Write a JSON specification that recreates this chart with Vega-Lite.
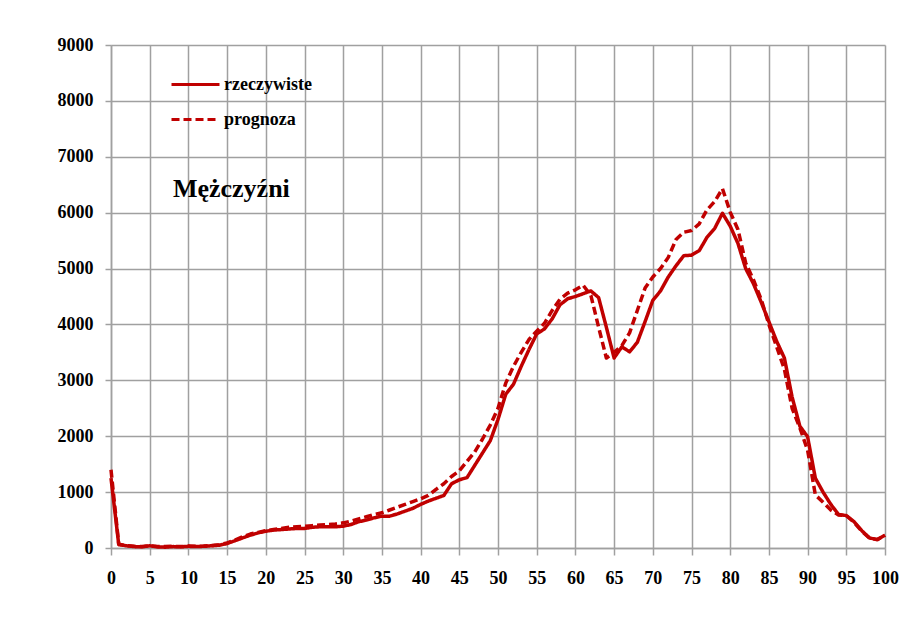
{
  "$schema": "https://vega.github.io/schema/vega-lite/v6.json",
  "width": 774,
  "height": 503,
  "autosize": {"type": "none"},
  "padding": {"left": 111, "top": 45, "right": 16, "bottom": 82},
  "background": "white",
  "config": {
    "font": "Liberation Serif",
    "view": {"stroke": null},
    "axis": {
      "gridColor": "#a0a0a0",
      "gridWidth": 1.5,
      "gridOpacity": 1,
      "domainColor": "#a0a0a0",
      "domainWidth": 1.5,
      "tickColor": "#a0a0a0",
      "tickWidth": 1.5,
      "labelFont": "Liberation Serif",
      "labelFontWeight": "bold",
      "labelFontSize": 18,
      "labelColor": "black",
      "labelOverlap": false,
      "labelFlush": false,
      "title": null
    }
  },
  "data": {
    "values": [
      {"wiek":0,"seria":"rzeczywiste","wartosc":1250},{"wiek":1,"seria":"rzeczywiste","wartosc":60},{"wiek":2,"seria":"rzeczywiste","wartosc":40},{"wiek":3,"seria":"rzeczywiste","wartosc":25},{"wiek":4,"seria":"rzeczywiste","wartosc":20},{"wiek":5,"seria":"rzeczywiste","wartosc":40},{"wiek":6,"seria":"rzeczywiste","wartosc":20},{"wiek":7,"seria":"rzeczywiste","wartosc":15},{"wiek":8,"seria":"rzeczywiste","wartosc":25},{"wiek":9,"seria":"rzeczywiste","wartosc":20},{"wiek":10,"seria":"rzeczywiste","wartosc":30},
      {"wiek":11,"seria":"rzeczywiste","wartosc":25},{"wiek":12,"seria":"rzeczywiste","wartosc":30},{"wiek":13,"seria":"rzeczywiste","wartosc":40},{"wiek":14,"seria":"rzeczywiste","wartosc":50},{"wiek":15,"seria":"rzeczywiste","wartosc":80},{"wiek":16,"seria":"rzeczywiste","wartosc":130},{"wiek":17,"seria":"rzeczywiste","wartosc":180},{"wiek":18,"seria":"rzeczywiste","wartosc":230},{"wiek":19,"seria":"rzeczywiste","wartosc":270},{"wiek":20,"seria":"rzeczywiste","wartosc":300},
      {"wiek":21,"seria":"rzeczywiste","wartosc":320},{"wiek":22,"seria":"rzeczywiste","wartosc":330},{"wiek":23,"seria":"rzeczywiste","wartosc":340},{"wiek":24,"seria":"rzeczywiste","wartosc":350},{"wiek":25,"seria":"rzeczywiste","wartosc":350},{"wiek":26,"seria":"rzeczywiste","wartosc":370},{"wiek":27,"seria":"rzeczywiste","wartosc":380},{"wiek":28,"seria":"rzeczywiste","wartosc":380},{"wiek":29,"seria":"rzeczywiste","wartosc":380},{"wiek":30,"seria":"rzeczywiste","wartosc":390},
      {"wiek":31,"seria":"rzeczywiste","wartosc":420},{"wiek":32,"seria":"rzeczywiste","wartosc":470},{"wiek":33,"seria":"rzeczywiste","wartosc":500},{"wiek":34,"seria":"rzeczywiste","wartosc":540},{"wiek":35,"seria":"rzeczywiste","wartosc":570},{"wiek":36,"seria":"rzeczywiste","wartosc":570},{"wiek":37,"seria":"rzeczywiste","wartosc":610},{"wiek":38,"seria":"rzeczywiste","wartosc":660},{"wiek":39,"seria":"rzeczywiste","wartosc":710},{"wiek":40,"seria":"rzeczywiste","wartosc":780},
      {"wiek":41,"seria":"rzeczywiste","wartosc":840},{"wiek":42,"seria":"rzeczywiste","wartosc":890},{"wiek":43,"seria":"rzeczywiste","wartosc":940},{"wiek":44,"seria":"rzeczywiste","wartosc":1150},{"wiek":45,"seria":"rzeczywiste","wartosc":1220},{"wiek":46,"seria":"rzeczywiste","wartosc":1260},{"wiek":47,"seria":"rzeczywiste","wartosc":1480},{"wiek":48,"seria":"rzeczywiste","wartosc":1700},{"wiek":49,"seria":"rzeczywiste","wartosc":1920},{"wiek":50,"seria":"rzeczywiste","wartosc":2300},
      {"wiek":51,"seria":"rzeczywiste","wartosc":2750},{"wiek":52,"seria":"rzeczywiste","wartosc":2930},{"wiek":53,"seria":"rzeczywiste","wartosc":3250},{"wiek":54,"seria":"rzeczywiste","wartosc":3550},{"wiek":55,"seria":"rzeczywiste","wartosc":3830},{"wiek":56,"seria":"rzeczywiste","wartosc":3920},{"wiek":57,"seria":"rzeczywiste","wartosc":4100},{"wiek":58,"seria":"rzeczywiste","wartosc":4350},{"wiek":59,"seria":"rzeczywiste","wartosc":4460},{"wiek":60,"seria":"rzeczywiste","wartosc":4500},
      {"wiek":61,"seria":"rzeczywiste","wartosc":4550},{"wiek":62,"seria":"rzeczywiste","wartosc":4600},{"wiek":63,"seria":"rzeczywiste","wartosc":4480},{"wiek":64,"seria":"rzeczywiste","wartosc":3950},{"wiek":65,"seria":"rzeczywiste","wartosc":3400},{"wiek":66,"seria":"rzeczywiste","wartosc":3600},{"wiek":67,"seria":"rzeczywiste","wartosc":3510},{"wiek":68,"seria":"rzeczywiste","wartosc":3680},{"wiek":69,"seria":"rzeczywiste","wartosc":4050},{"wiek":70,"seria":"rzeczywiste","wartosc":4430},
      {"wiek":71,"seria":"rzeczywiste","wartosc":4600},{"wiek":72,"seria":"rzeczywiste","wartosc":4850},{"wiek":73,"seria":"rzeczywiste","wartosc":5050},{"wiek":74,"seria":"rzeczywiste","wartosc":5230},{"wiek":75,"seria":"rzeczywiste","wartosc":5240},{"wiek":76,"seria":"rzeczywiste","wartosc":5320},{"wiek":77,"seria":"rzeczywiste","wartosc":5560},{"wiek":78,"seria":"rzeczywiste","wartosc":5720},{"wiek":79,"seria":"rzeczywiste","wartosc":5990},{"wiek":80,"seria":"rzeczywiste","wartosc":5760},
      {"wiek":81,"seria":"rzeczywiste","wartosc":5450},{"wiek":82,"seria":"rzeczywiste","wartosc":5000},{"wiek":83,"seria":"rzeczywiste","wartosc":4730},{"wiek":84,"seria":"rzeczywiste","wartosc":4400},{"wiek":85,"seria":"rzeczywiste","wartosc":4050},{"wiek":86,"seria":"rzeczywiste","wartosc":3700},{"wiek":87,"seria":"rzeczywiste","wartosc":3400},{"wiek":88,"seria":"rzeczywiste","wartosc":2700},{"wiek":89,"seria":"rzeczywiste","wartosc":2180},{"wiek":90,"seria":"rzeczywiste","wartosc":1990},
      {"wiek":91,"seria":"rzeczywiste","wartosc":1250},{"wiek":92,"seria":"rzeczywiste","wartosc":1000},{"wiek":93,"seria":"rzeczywiste","wartosc":780},{"wiek":94,"seria":"rzeczywiste","wartosc":600},{"wiek":95,"seria":"rzeczywiste","wartosc":580},{"wiek":96,"seria":"rzeczywiste","wartosc":470},{"wiek":97,"seria":"rzeczywiste","wartosc":310},{"wiek":98,"seria":"rzeczywiste","wartosc":180},{"wiek":99,"seria":"rzeczywiste","wartosc":150},{"wiek":100,"seria":"rzeczywiste","wartosc":230},
      {"wiek":0,"seria":"prognoza","wartosc":1400},{"wiek":1,"seria":"prognoza","wartosc":70},{"wiek":2,"seria":"prognoza","wartosc":40},{"wiek":3,"seria":"prognoza","wartosc":30},{"wiek":4,"seria":"prognoza","wartosc":25},{"wiek":5,"seria":"prognoza","wartosc":40},{"wiek":6,"seria":"prognoza","wartosc":25},{"wiek":7,"seria":"prognoza","wartosc":25},{"wiek":8,"seria":"prognoza","wartosc":30},{"wiek":9,"seria":"prognoza","wartosc":25},{"wiek":10,"seria":"prognoza","wartosc":35},
      {"wiek":11,"seria":"prognoza","wartosc":30},{"wiek":12,"seria":"prognoza","wartosc":35},{"wiek":13,"seria":"prognoza","wartosc":45},{"wiek":14,"seria":"prognoza","wartosc":60},{"wiek":15,"seria":"prognoza","wartosc":90},{"wiek":16,"seria":"prognoza","wartosc":140},{"wiek":17,"seria":"prognoza","wartosc":200},{"wiek":18,"seria":"prognoza","wartosc":250},{"wiek":19,"seria":"prognoza","wartosc":280},{"wiek":20,"seria":"prognoza","wartosc":310},
      {"wiek":21,"seria":"prognoza","wartosc":330},{"wiek":22,"seria":"prognoza","wartosc":350},{"wiek":23,"seria":"prognoza","wartosc":370},{"wiek":24,"seria":"prognoza","wartosc":380},{"wiek":25,"seria":"prognoza","wartosc":390},{"wiek":26,"seria":"prognoza","wartosc":400},{"wiek":27,"seria":"prognoza","wartosc":410},{"wiek":28,"seria":"prognoza","wartosc":420},{"wiek":29,"seria":"prognoza","wartosc":430},{"wiek":30,"seria":"prognoza","wartosc":450},
      {"wiek":31,"seria":"prognoza","wartosc":480},{"wiek":32,"seria":"prognoza","wartosc":520},{"wiek":33,"seria":"prognoza","wartosc":560},{"wiek":34,"seria":"prognoza","wartosc":600},{"wiek":35,"seria":"prognoza","wartosc":630},{"wiek":36,"seria":"prognoza","wartosc":680},{"wiek":37,"seria":"prognoza","wartosc":730},{"wiek":38,"seria":"prognoza","wartosc":780},{"wiek":39,"seria":"prognoza","wartosc":830},{"wiek":40,"seria":"prognoza","wartosc":880},
      {"wiek":41,"seria":"prognoza","wartosc":940},{"wiek":42,"seria":"prognoza","wartosc":1050},{"wiek":43,"seria":"prognoza","wartosc":1150},{"wiek":44,"seria":"prognoza","wartosc":1280},{"wiek":45,"seria":"prognoza","wartosc":1380},{"wiek":46,"seria":"prognoza","wartosc":1550},{"wiek":47,"seria":"prognoza","wartosc":1720},{"wiek":48,"seria":"prognoza","wartosc":1950},{"wiek":49,"seria":"prognoza","wartosc":2200},{"wiek":50,"seria":"prognoza","wartosc":2500},
      {"wiek":51,"seria":"prognoza","wartosc":2950},{"wiek":52,"seria":"prognoza","wartosc":3250},{"wiek":53,"seria":"prognoza","wartosc":3500},{"wiek":54,"seria":"prognoza","wartosc":3730},{"wiek":55,"seria":"prognoza","wartosc":3880},{"wiek":56,"seria":"prognoza","wartosc":4020},{"wiek":57,"seria":"prognoza","wartosc":4250},{"wiek":58,"seria":"prognoza","wartosc":4450},{"wiek":59,"seria":"prognoza","wartosc":4560},{"wiek":60,"seria":"prognoza","wartosc":4620},
      {"wiek":61,"seria":"prognoza","wartosc":4700},{"wiek":62,"seria":"prognoza","wartosc":4520},{"wiek":63,"seria":"prognoza","wartosc":3950},{"wiek":64,"seria":"prognoza","wartosc":3400},{"wiek":65,"seria":"prognoza","wartosc":3500},{"wiek":66,"seria":"prognoza","wartosc":3620},{"wiek":67,"seria":"prognoza","wartosc":3850},{"wiek":68,"seria":"prognoza","wartosc":4250},{"wiek":69,"seria":"prognoza","wartosc":4650},{"wiek":70,"seria":"prognoza","wartosc":4850},
      {"wiek":71,"seria":"prognoza","wartosc":5000},{"wiek":72,"seria":"prognoza","wartosc":5200},{"wiek":73,"seria":"prognoza","wartosc":5520},{"wiek":74,"seria":"prognoza","wartosc":5650},{"wiek":75,"seria":"prognoza","wartosc":5680},{"wiek":76,"seria":"prognoza","wartosc":5800},{"wiek":77,"seria":"prognoza","wartosc":6050},{"wiek":78,"seria":"prognoza","wartosc":6200},{"wiek":79,"seria":"prognoza","wartosc":6430},{"wiek":80,"seria":"prognoza","wartosc":6010},
      {"wiek":81,"seria":"prognoza","wartosc":5700},{"wiek":82,"seria":"prognoza","wartosc":5100},{"wiek":83,"seria":"prognoza","wartosc":4800},{"wiek":84,"seria":"prognoza","wartosc":4450},{"wiek":85,"seria":"prognoza","wartosc":4000},{"wiek":86,"seria":"prognoza","wartosc":3600},{"wiek":87,"seria":"prognoza","wartosc":3200},{"wiek":88,"seria":"prognoza","wartosc":2500},{"wiek":89,"seria":"prognoza","wartosc":2150},{"wiek":90,"seria":"prognoza","wartosc":1750},
      {"wiek":91,"seria":"prognoza","wartosc":950},{"wiek":92,"seria":"prognoza","wartosc":820},{"wiek":93,"seria":"prognoza","wartosc":680},{"wiek":94,"seria":"prognoza","wartosc":590},{"wiek":95,"seria":"prognoza","wartosc":580},{"wiek":96,"seria":"prognoza","wartosc":460},{"wiek":97,"seria":"prognoza","wartosc":300},{"wiek":98,"seria":"prognoza","wartosc":175},{"wiek":99,"seria":"prognoza","wartosc":150},{"wiek":100,"seria":"prognoza","wartosc":230}
    ]
  },
  "layer": [
    {
      "mark": {"type": "line", "strokeWidth": 3.5, "strokeJoin": "round"},
      "encoding": {
        "x": {
          "field": "wiek", "type": "quantitative",
          "scale": {"domain": [0, 100], "nice": false},
          "axis": {"values": [0,5,10,15,20,25,30,35,40,45,50,55,60,65,70,75,80,85,90,95,100], "format": "d", "tickSize": 7, "labelPadding": 14}
        },
        "y": {
          "field": "wartosc", "type": "quantitative",
          "scale": {"domain": [0, 9000], "nice": false},
          "axis": {"values": [0,1000,2000,3000,4000,5000,6000,7000,8000,9000], "format": "d", "tickSize": 6, "labelPadding": 12}
        },
        "color": {
          "field": "seria", "type": "nominal",
          "scale": {"domain": ["rzeczywiste", "prognoza"], "range": ["#c00000", "#c00000"]},
          "legend": {
            "title": null, "orient": "none", "legendX": 59, "legendY": 14,
            "symbolType": "stroke", "symbolSize": 2304, "symbolStrokeWidth": 3,
            "labelFont": "Liberation Serif", "labelFontWeight": "bold", "labelFontSize": 18,
            "labelColor": "black", "labelOffset": 3, "rowPadding": -14, "padding": 0
          }
        },
        "strokeDash": {
          "field": "seria", "type": "nominal",
          "scale": {"domain": ["rzeczywiste", "prognoza"], "range": [[1, 0], [8, 4]]},
          "legend": {
            "title": null, "orient": "none", "legendX": 59, "legendY": 14,
            "symbolType": "stroke", "symbolSize": 2304, "symbolStrokeWidth": 3,
            "labelFont": "Liberation Serif", "labelFontWeight": "bold", "labelFontSize": 18,
            "labelColor": "black", "labelOffset": 3, "rowPadding": -14, "padding": 0
          }
        },
        "order": {"field": "wiek", "type": "quantitative"}
      }
    },
    {
      "data": {"values": [{"etykieta": "Mężczyźni"}]},
      "mark": {"type": "text", "font": "Liberation Serif", "fontWeight": "bold", "fontSize": 26, "align": "left", "baseline": "alphabetic", "color": "black"},
      "encoding": {
        "text": {"field": "etykieta", "type": "nominal"},
        "x": {
          "datum": 8, "type": "quantitative",
          "axis": {"values": [0,5,10,15,20,25,30,35,40,45,50,55,60,65,70,75,80,85,90,95,100], "format": "d", "tickSize": 7, "labelPadding": 14}
        },
        "y": {
          "datum": 6285, "type": "quantitative",
          "axis": {"values": [0,1000,2000,3000,4000,5000,6000,7000,8000,9000], "format": "d", "tickSize": 6, "labelPadding": 12}
        }
      }
    }
  ]
}
